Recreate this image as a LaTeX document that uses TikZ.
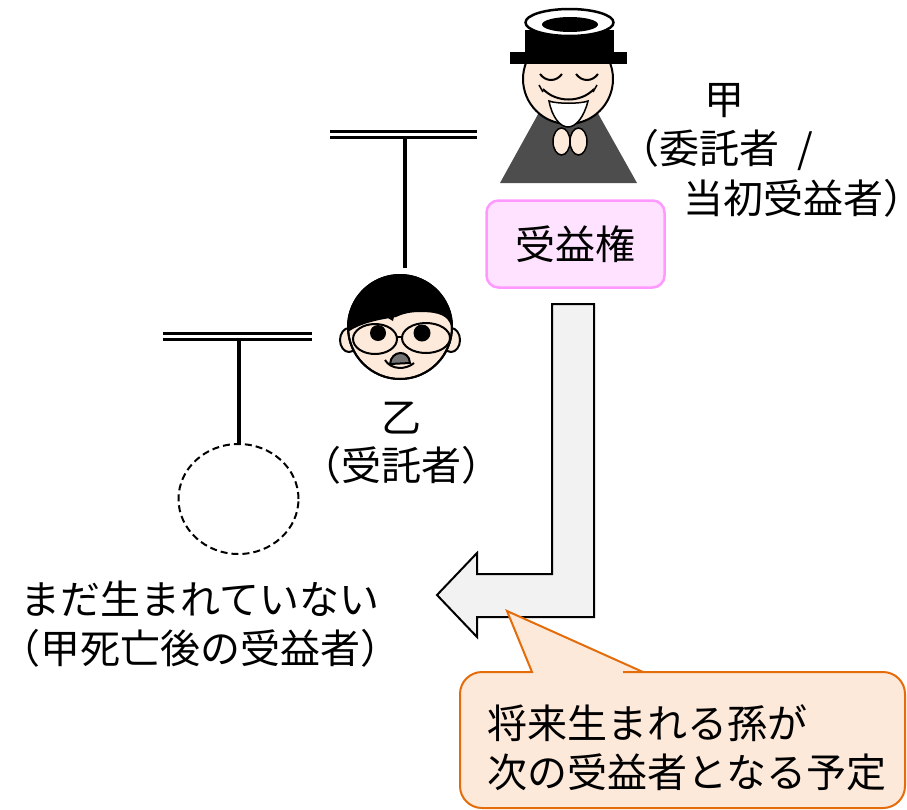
\documentclass[tikz,border=0pt]{standalone}
\usepackage{fontspec}
\setmainfont{Noto Sans CJK JP}
\usetikzlibrary{positioning}
\usetikzlibrary{shapes.geometric}
\definecolor{skin}{RGB}{253,234,218}
\definecolor{robe}{RGB}{77,77,77}
\definecolor{ArrowFill}{RGB}{242,242,242}
\definecolor{PinkEdge}{RGB}{255,153,255}
\definecolor{PinkFill}{RGB}{255,226,255}
\definecolor{CalloutFill}{RGB}{253,233,217}
\definecolor{CalloutEdge}{RGB}{228,108,10}

\begin{document}
\begin{tikzpicture}[
  x=1pt, y=-1pt,
  font=\fontsize{40}{48.5}\selectfont,
  lbl/.style={inner sep=0pt, align=center},
  famline/.style={line width=4pt},
  spouse/.style={double, double distance=3pt, line width=3pt},
  part/.style={draw=black, fill=skin, line width=2pt},
  kenribox/.style={draw=PinkEdge, line width=2.5pt, rounded corners=12pt,
                   top color=PinkFill, middle color=white, bottom color=PinkFill,
                   minimum width=178pt, minimum height=87pt, inner sep=0pt},
  unbornbox/.style={ellipse, draw, dashed, dash pattern=on 7pt off 4pt, line width=2pt,
                    minimum width=120pt, minimum height=110pt},
  bigarrow/.style={draw=black, fill=ArrowFill, line width=2pt, line join=miter},
  callout/.style={draw=CalloutEdge, fill=CalloutFill, line width=2pt}
]
\useasboundingbox (0,0) rectangle (907,809);

% family lines
\coordinate (barTopL) at (330,134.3);
\coordinate (barTopR) at (477,134.3);
\coordinate (barTopMid) at (405,138);
\coordinate (otsuTop) at (405,268);
\coordinate (barLowL) at (163,336);
\coordinate (barLowR) at (312,336);
\coordinate (barLowMid) at (238.5,340);
\draw[spouse] (barTopL) -- (barTopR);
\draw[famline] (barTopMid) -- (otsuTop);
\draw[spouse] (barLowL) -- (barLowR);
\node[unbornbox] (grandchild) at (238.5,499) {};
\draw[famline] (barLowMid) -- (grandchild.north);

% 甲: robe, face, beard, hat with halo
\fill[robe] (500,183) -- (568,60) -- (637,183) -- cycle;
\draw[part] (568,79) circle[radius=45];
\draw[line width=1.5pt, fill=white] (549,101) .. controls (552,117) and (560,127) .. (568,127)
  .. controls (576,127) and (584,117) .. (588,101) .. controls (580,104) and (557,104) .. cycle;
\draw[line width=2pt] (543,89) .. controls (556,103) and (581,103) .. (594,89);
\draw[line width=1.5pt] (539,85) -- (543,92);
\draw[line width=1.5pt] (597,85) -- (593,92);
\draw[line width=2pt] (540,74) .. controls (546,82) and (556,82) .. (562,74);
\draw[line width=2pt] (576,74) .. controls (582,82) and (592,82) .. (598,74);
\fill[black] (525,30) rectangle (614,55);
\fill[black] (510,52) rectangle (627,64);
\draw[line width=2.5pt, fill=white] (569.5,22.5) ellipse[x radius=44, y radius=13.5];
\fill[black] (570,24.5) ellipse[x radius=28, y radius=7.5];
\draw[part, line width=1.5pt] (561.5,141.5) ellipse[x radius=8.5, y radius=13.5];
\draw[part, line width=1.5pt] (578.5,141.5) ellipse[x radius=8.5, y radius=13.5];

\node[lbl] (ko) at (724,101) {甲};
\node[lbl, anchor=west] (koRoleA) at (619,150) {（委託者\hspace{0.45em}/};
\node[lbl, anchor=west] (koRoleB) at (683,198) {当初受益者\makebox[0.5em][l]{）}};

% 乙: ears, head, hair, glasses
\draw[part] (349,340) ellipse[x radius=9, y radius=12];
\draw[part] (451,340) ellipse[x radius=9, y radius=12];
\draw[part] (400,327) circle[radius=52];
\begin{scope}
  \clip (400,327) circle[radius=52];
  \fill[black] (340,260) -- (462,260) -- (462,330) -- (451,326)
    .. controls (448,316) and (440,312) .. (420,312) .. controls (410,312) and (402,314) .. (396,317)
    .. controls (384,319) and (362,322) .. (348,332) -- (340,332) -- cycle;
  \fill[black] (388,318) -- (395,312) -- (393,321) -- cycle;
\end{scope}
\draw[line width=2pt] (400,327) circle[radius=52];
\fill[black] (378,333) circle[radius=8];
\fill[black] (422,333) circle[radius=8.5];
\draw[line width=2pt] (375,339) ellipse[x radius=22, y radius=15];
\draw[line width=2pt] (426,338) ellipse[x radius=24, y radius=15];
\draw[line width=2pt] (397,337) -- (402,337);
\draw[line width=2pt, fill=black!55] (390,364) .. controls (391,350) and (409,349) .. (410,363) -- cycle;
\draw[line width=2pt] (385,360) .. controls (391,370) and (406,370) .. (414,363);

\node[lbl] (otsu) at (401,443) {乙\\（受託者）};

% 受益権 box
\node[kenribox] (kenri) at (575.5,244) {受益権};

% transfer arrow
\filldraw[bigarrow] (552,304) -- (594,304) -- (594,617) -- (477,617) -- (477,637)
  -- (437,595) -- (477,553) -- (477,574) -- (552,574) -- cycle;

\node[lbl] (unborn) at (200,624) {まだ生まれていない\\（甲死亡後の受益者）};

% callout
\filldraw[callout] (643,672) -- (507,611) -- (532,672) -- (530,672) [rounded corners=22pt]
  -- (460,672) -- (460,808) -- (905,808) -- (905,672) -- (645,672) [sharp corners] -- cycle;
\node[lbl, align=left, anchor=west] (plan) at (487,748) {将来生まれる孫が\\次の受益者となる予定};
\end{tikzpicture}
\end{document}
